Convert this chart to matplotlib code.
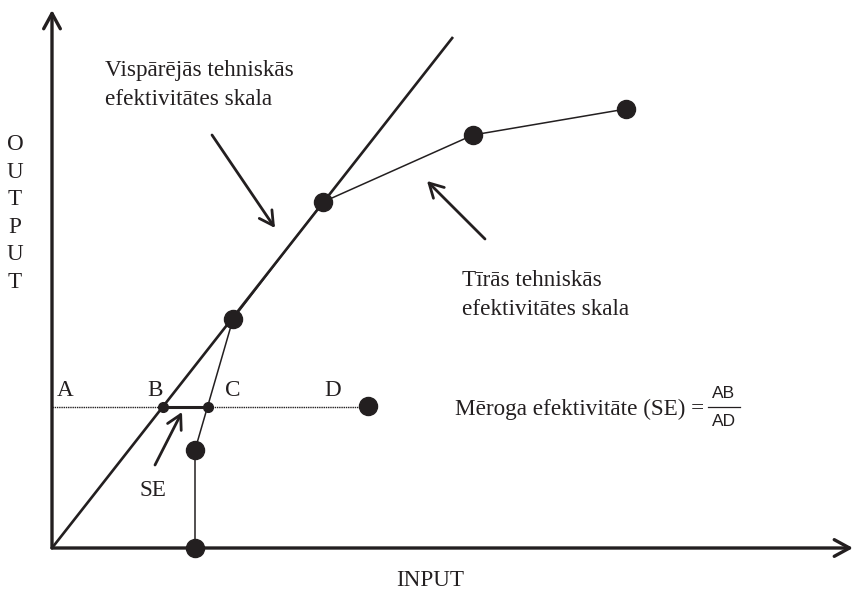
import numpy as np
import matplotlib
matplotlib.use("Agg")
import matplotlib.pyplot as plt

plt.rcParams['font.family'] = ['Liberation Serif', 'DejaVu Serif']

INK = '#231f20'

# constant returns to scale line (origin -> top end)
crs_x = [0, 401]
crs_y = [0, 511]

# variable returns to scale frontier points
vrs_x = [143, 143, 181, 271, 421, 574]
vrs_y = [0, 98, 229, 346, 413, 439]

# horizontal reference level through B, C, D
level_y = 141
b_x, c_x = 111, 156
d_point = (316, 142)

letters = ['A', 'B', 'C', 'D']
letters_x = [13, 103, 181, 281]
output_letters = list('OUTPUT')


def arrow(ax, tail, tip, lw=2.0, hl=1.0, hw=0.55):
    ax.annotate('', xy=tip, xytext=tail,
                arrowprops=dict(arrowstyle='->,head_length=%g,head_width=%g' % (hl, hw),
                                lw=lw, color=INK, shrinkA=0, shrinkB=0))


fig = plt.figure(figsize=(8.55, 5.92), dpi=100)
ax = fig.add_axes([0, 0, 1, 1])
ax.set_xlim(-52, 803)
ax.set_ylim(-44, 548)
ax.axis('off')

# axes with open arrowheads
arrow(ax, (0, 0), (0, 538), lw=2.4, hl=1.1, hw=0.6)
arrow(ax, (0, 0), (801, 0), lw=2.4, hl=1.1, hw=0.6)

# CRS line
ax.plot(crs_x, crs_y, color=INK, lw=1.9, solid_capstyle='butt', zorder=3)

# VRS frontier
ax.plot(vrs_x, vrs_y, color=INK, lw=1.1, zorder=3)
ax.plot(vrs_x, vrs_y, 'o', color=INK, ms=13, zorder=4)

# dotted level line and SE segment
ax.plot([0, d_point[0]], [level_y, level_y], color=INK, lw=1.0, ls=(0, (1, 0.6)), zorder=2)
ax.plot([b_x, c_x], [level_y, level_y], color=INK, lw=2.2, zorder=3)
ax.plot([b_x, c_x], [level_y, level_y], 'o', color=INK, ms=7, zorder=4)
ax.plot(*d_point, 'o', color=INK, ms=13, zorder=4)

fs = 16.7
for lab, lx in zip(letters, letters_x):
    ax.text(lx, 158, lab, fontsize=fs, ha='center', va='center', color=INK)

ax.text(101, 58, 'SE', fontsize=fs, ha='center', va='center', color=INK)
arrow(ax, (103, 83), (130, 136))

ax.text(53, 463, 'Vispārējās tehniskās\nefektivitātes skala', fontsize=fs, ha='left', va='center',
        color=INK, linespacing=1.55)
arrow(ax, (160, 413), (223, 320))

ax.text(410, 253, 'Tīrās tehniskās\nefektivitātes skala', fontsize=fs, ha='left', va='center',
        color=INK, linespacing=1.55)
arrow(ax, (433, 309), (375, 367))

ax.text(403, 139, 'Mēroga efektivitāte (SE) =', fontsize=fs, ha='left', va='center', color=INK)
# fraction AB / AD
ax.text(672, 155, 'AB', fontsize=12.5, family='Liberation Sans', ha='center', va='center', color=INK)
ax.text(672, 126, 'AD', fontsize=12.5, family='Liberation Sans', ha='center', va='center', color=INK)
ax.plot([656, 688], [141, 141], color=INK, lw=0.9)

ys = np.linspace(403, 266, len(output_letters))
for ch, yy in zip(output_letters, ys):
    ax.text(-37, yy, ch, fontsize=fs, ha='center', va='center', color=INK)

ax.text(378, -32, 'INPUT', fontsize=fs, ha='center', va='center', color=INK)

fig.savefig('out.png', dpi=100)
